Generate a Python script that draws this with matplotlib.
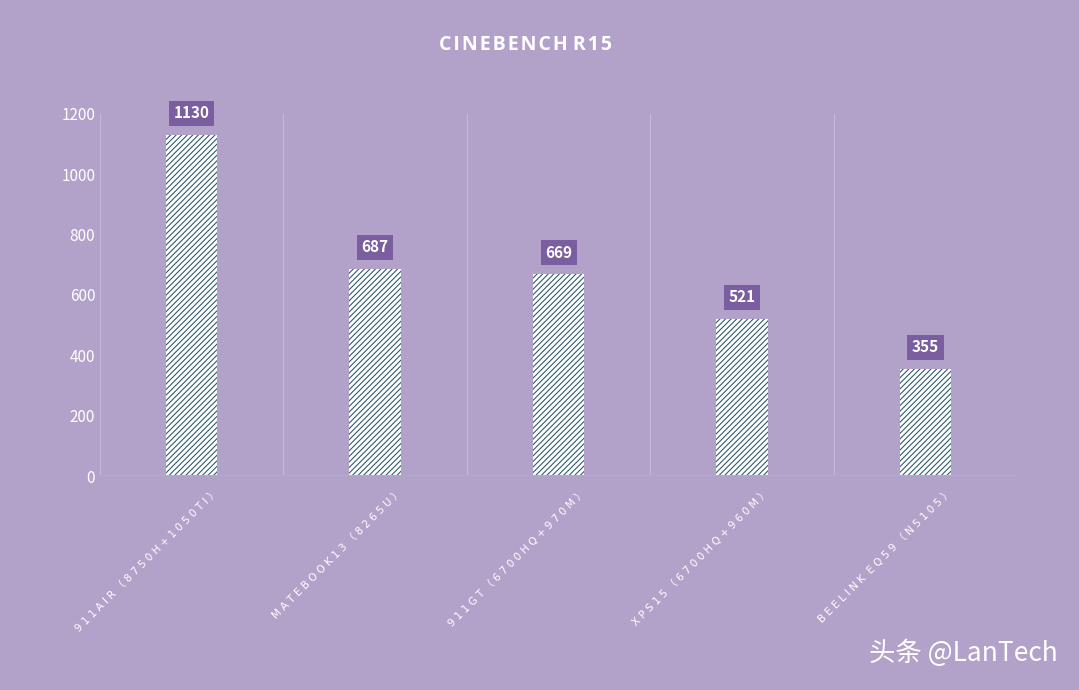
import matplotlib
matplotlib.use("Agg")
import matplotlib.pyplot as plt
from matplotlib.transforms import ScaledTranslation

plt.rcParams['font.family'] = ['Noto Sans CJK SC', 'DejaVu Sans']
plt.rcParams['hatch.color'] = '#2f5d6b'
plt.rcParams['hatch.linewidth'] = 0.8

categories = ["911AIR（8750H+1050TI）", "MATEBOOK13（8265U）", "911GT（6700HQ+970M）",
              "XPS15（6700HQ+960M）", "BEELINK EQ59（N5105）"]
values = [1130, 687, 669, 521, 355]
yticks = [0, 200, 400, 600, 800, 1000, 1200]

bg = '#B2A2C9'
fig = plt.figure(figsize=(10.79, 6.9), dpi=100, facecolor=bg)
ax = fig.add_axes([0.0927, 0.310, 0.850, 0.525], facecolor=bg)
x = list(range(len(categories)))
ax.bar(x, values, width=0.28, color='white', hatch='//////', edgecolor='#2f5d6b', linewidth=0)
ax.set_xlim(-0.5, len(categories) - 0.5)
ax.set_ylim(0, 1200)
ax.set_yticks(yticks)
ax.set_yticklabels([str(t) for t in yticks], color='white', fontsize=11)
ax.tick_params(length=0)
ax.tick_params(axis='x', pad=8)
ax.set_xticks(x)
spaced = [" ".join(c).replace("   ", "  ") for c in categories]
ax.set_xticklabels(spaced, rotation=45, ha='right', rotation_mode='anchor', color='white',
                   fontsize=7.5, family=['DejaVu Sans', 'Noto Sans CJK SC'])
off = ScaledTranslation(0.22, 0, fig.dpi_scale_trans)
for lbl in ax.get_xticklabels():
    lbl.set_transform(lbl.get_transform() + off)
for spine in ax.spines.values():
    spine.set_visible(False)
ax.axhline(0, color='#a9aed0', lw=1.5)
for b in [i + 0.5 for i in range(-1, len(categories))]:
    ax.axvline(b, color='#c4b8d8', lw=0.8, zorder=0)
for xi, v in zip(x, values):
    ax.text(xi, v + 45, str(v), ha='center', va='bottom', color='white', fontsize=11, fontweight='bold',
            bbox=dict(boxstyle='square,pad=0.3', fc='#7B5EA0', ec='none'))
title = "\u200a".join("CINEBENCH") + " " + "\u200a".join("R15")
fig.text(0.487, 0.935, title, ha='center', va='center', color='white',
         fontsize=14, fontweight='bold', family=['Open Sans', 'DejaVu Sans'])
fig.text(0.98, 0.053, "头条 @LanTech", ha='right', va='center', color='white', fontsize=19)
fig.savefig('out.png', dpi=100, facecolor=bg)
